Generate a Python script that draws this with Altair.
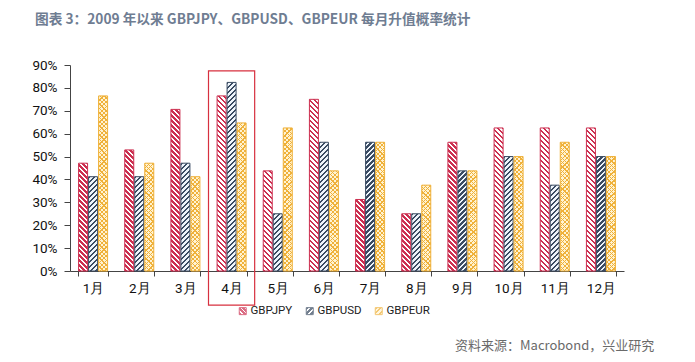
import altair as alt
import pandas as pd

# ---------------- data ----------------
months = ["1月", "2月", "3月", "4月", "5月", "6月", "7月", "8月", "9月", "10月", "11月", "12月"]
series = ["GBPJPY", "GBPUSD", "GBPEUR"]
gbpjpy = [0.471, 0.529, 0.706, 0.765, 0.4375, 0.75, 0.3125, 0.25, 0.5625, 0.625, 0.625, 0.625]
gbpusd = [0.412, 0.412, 0.471, 0.824, 0.25, 0.5625, 0.5625, 0.25, 0.4375, 0.5, 0.375, 0.5]
gbpeur = [0.765, 0.471, 0.412, 0.647, 0.625, 0.4375, 0.5625, 0.375, 0.4375, 0.5, 0.5625, 0.5]
y_ticks = [0, 0.1, 0.2, 0.3, 0.4, 0.5, 0.6, 0.7, 0.8, 0.9]
highlight_month = "4月"
title_text = "图表 3：2009 年以来 GBPJPY、GBPUSD、GBPEUR 每月升值概率统计"
source_text = "资料来源：Macrobond，兴业研究"

rows = []
for name, vals in zip(series, [gbpjpy, gbpusd, gbpeur]):
    for m, v in zip(months, vals):
        rows.append({"month": m, "series": name, "value": v})
df = pd.DataFrame(rows)

# ---------------- styles ----------------
RED = "#cc2f50"
SLATE = "#3a4b62"
GOLD = "#efb13a"
LBLUE = "#eef4fb"
PALE = "#fff3d2"
CLEAR = "rgba(255,255,255,0)"
AXIS_FONT = "Roboto, Liberation Sans, sans-serif"


def stripes(n, frac, a, b):
    out = []
    for i in range(n):
        out += [
            {"offset": i / n, "color": a},
            {"offset": (i + frac) / n, "color": a},
            {"offset": (i + frac) / n, "color": b},
            {"offset": (i + 1) / n, "color": b},
        ]
    return out


N = 70
p_j = alt.param(name="stJ", value=stripes(N, 0.5, RED, "#ffffff"))
p_u = alt.param(name="stU", value=stripes(N, 0.45, SLATE, LBLUE))
p_e = alt.param(name="stE", value=stripes(N, 0.28, GOLD, PALE))
p_e2 = alt.param(name="stE2", value=stripes(N, 0.28, GOLD, CLEAR))
p_lj = alt.param(name="lgJ", value=stripes(3, 0.62, RED, "#ffffff"))
p_lu = alt.param(name="lgU", value=stripes(3, 0.62, SLATE, "#ffffff"))
p_le = alt.param(name="lgE", value=stripes(3, 0.5, GOLD, PALE))

W = "bandwidth('xOffset')"
H = "(scale('y',0)-scale('y',datum.value))"
D = "(" + W + "*" + W + "+" + H + "*" + H + ")"


def back(s, stops):  # "\" stripes
    k = str(s * N) + "/" + D
    return ("{gradient:'linear',x1:0,y1:1,x2:" + k + "*" + W + ",y2:1-" + k + "*" + H +
            ",stops:" + stops + "}")


def fwd(s, stops):  # "/" stripes
    k = str(s * N) + "/" + D
    return ("{gradient:'linear',x1:0,y1:0,x2:" + k + "*" + W + ",y2:" + k + "*" + H +
            ",stops:" + stops + "}")


bar_fill = ("datum.series === 'GBPJPY' ? " + back(5.0, "stJ") +
            " : datum.series === 'GBPUSD' ? " + fwd(5.0, "stU") +
            " : " + back(4.4, "stE"))
eur_overlay = fwd(4.4, "stE2")
bar_stroke = ("datum.series === 'GBPJPY' ? '" + RED + "' : datum.series === 'GBPUSD' ? '" +
              SLATE + "' : '" + GOLD + "'")

x_axis = alt.Axis(title=None, labelAngle=0, tickBand="extent", tickSize=5,
                  labelPadding=5, labelFontSize=13.5)
x_scale = alt.Scale(domain=months, paddingInner=0.35, paddingOuter=0.175)
y_axis = alt.Axis(title=None, values=y_ticks, format=".0%", grid=False,
                  labelOverlap=False, tickSize=6, labelPadding=7, labelFontSize=13.5)
y_scale = alt.Scale(domain=[0, 0.9], nice=False)

x_enc = alt.X("month:N", sort=months, scale=x_scale, axis=x_axis)
xo_enc = alt.XOffset("series:N", sort=series,
                     scale=alt.Scale(domain=series, paddingInner=0.1, paddingOuter=0.05))
y_enc = alt.Y("value:Q", scale=y_scale, axis=y_axis)

base = alt.Chart(df)

bars = base.mark_bar(strokeWidth=1).encode(
    x=x_enc, xOffset=xo_enc, y=y_enc,
    fill=alt.value({"expr": bar_fill}),
    stroke=alt.value({"expr": bar_stroke}),
)

eur_bars = base.transform_filter(alt.datum.series == "GBPEUR").mark_bar(strokeWidth=0).encode(
    x=x_enc, xOffset=xo_enc, y=y_enc,
    fill=alt.value({"expr": eur_overlay}),
)

leg = alt.Legend(title=None, orient="none", direction="horizontal",
                 legendX=167, legendY=240, symbolType="square", symbolSize=49,
                 labelFont=AXIS_FONT, labelFontSize=11.5, labelColor="#222",
                 labelOffset=2, columnPadding=11, padding=0, symbolStrokeWidth=1)

legend_layer = base.transform_filter("false").mark_square(filled=True, strokeWidth=1).encode(
    fill=alt.Fill("series:N", legend=leg, scale=alt.Scale(domain=series, range=[
        alt.ExprRef("{gradient:'linear',x1:0,y1:1,x2:1,y2:0,stops:lgJ}"),
        alt.ExprRef("{gradient:'linear',x1:0,y1:0,x2:1,y2:1,stops:lgU}"),
        alt.ExprRef("{gradient:'linear',x1:0,y1:0,x2:1,y2:1,stops:lgE}"),
    ])),
    stroke=alt.Stroke("series:N", legend=leg,
                      scale=alt.Scale(domain=series, range=[RED, SLATE, GOLD])),
)

hl = alt.Chart(pd.DataFrame({"month": [highlight_month], "top": [0.874], "bottom": [-0.149]})).mark_bar(
    fill=None, stroke="#d7303f", strokeWidth=1.2, width=alt.RelativeBandSize(1 / 0.65)
).encode(
    x=alt.X("month:N", sort=months, scale=x_scale, axis=x_axis),
    y=alt.Y("top:Q", scale=y_scale, axis=y_axis), y2="bottom:Q",
)

src = alt.Chart(pd.DataFrame({"t": [source_text]})).mark_text(
    align="left", baseline="middle", font="Noto Sans CJK SC", fontSize=13, color="#6a6a6a"
).encode(x=alt.value(385), y=alt.value(281), text="t:N")

chart = alt.layer(bars, eur_bars, hl, legend_layer, src).add_params(
    p_j, p_u, p_e, p_e2, p_lj, p_lu, p_le
).properties(
    width=554, height=206,
    padding={"left": 62, "top": 57, "right": 63, "bottom": 83},
    autosize="none",
    title=alt.TitleParams(title_text, anchor="start", frame="group", dx=-35, offset=31,
                          font="Noto Sans CJK SC", fontSize=13.7, fontWeight="bold",
                          color="#6f7d92"),
).configure_view(stroke=None).configure_axis(
    domainColor="#444", tickColor="#444", labelColor="#111", labelFont=AXIS_FONT,
)

chart.save("out.html", embed_options={"renderer": "svg", "actions": False})
